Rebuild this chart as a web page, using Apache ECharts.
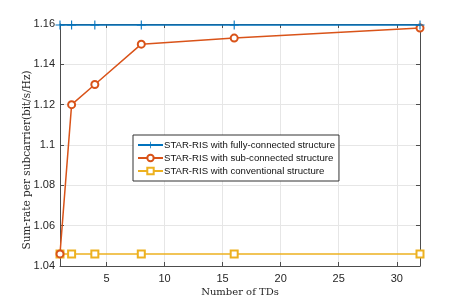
<!DOCTYPE html>
<html><head><meta charset="utf-8">
<script src="https://cdn.jsdelivr.net/npm/echarts@6/dist/echarts.min.js"></script>
<style>html,body{margin:0;padding:0;background:#fff}#c{width:464px;height:300px}</style>
</head><body><div id="c"></div>
<script>
const tds = [1, 2, 4, 8, 16, 32];
const fullyConnected = [1.1595, 1.1595, 1.1595, 1.1595, 1.1595, 1.1595];
const subConnected = [1.046, 1.12, 1.13, 1.15, 1.153, 1.158];
const conventional = [1.046, 1.046, 1.046, 1.046, 1.046, 1.046];
const xTicks = [5, 10, 15, 20, 25, 30];
const seriesNames = ['STAR-RIS with fully-connected structure','STAR-RIS with sub-connected structure','STAR-RIS with conventional structure'];
const xLabel = 'Number of TDs';
const yLabel = 'Sum-rate per subcarrier(bit/s/Hz)';

const pair = (xs, ys) => xs.map((x, i) => [x, ys[i]]);
const plus = 'path://M-0.12,-1 L0.12,-1 L0.12,-0.12 L1,-0.12 L1,0.12 L0.12,0.12 L0.12,1 L-0.12,1 L-0.12,0.12 L-1,0.12 L-1,-0.12 L-0.12,-0.12 Z';
const axisCol = '#4d4d4d';
const tickFont = {color: '#262626', fontSize: 11, fontFamily: 'Liberation Sans, Arial, sans-serif'};
const chart = echarts.init(document.getElementById('c'));
chart.setOption({
  animation: false,
  grid: {left: 60, right: 44, top: 24, bottom: 34, containLabel: false, outerBoundsMode: 'none'},
  legend: {
    orient: 'vertical', left: 133, top: 135,
    backgroundColor: '#fff', borderColor: '#333', borderWidth: 1, borderRadius: 0,
    padding: [5, 4, 5, 4], itemGap: 3, itemWidth: 25, itemHeight: 8,
    textStyle: {fontSize: 9.6, color: '#111', fontFamily: 'Liberation Sans, Arial, sans-serif', padding: [0,0,0,-4]},
    data: seriesNames
  },
  xAxis: [{
    type: 'value', min: 1, max: 32,
    name: xLabel, nameLocation: 'middle', nameGap: 21, nameMoveOverlap: false,
    nameTextStyle: {fontFamily: 'DejaVu Serif, serif', fontSize: 10, color: '#262626'},
    axisLine: {show: true, lineStyle: {color: axisCol}},
    axisTick: {show: true, inside: true, length: 4, customValues: xTicks, lineStyle: {color: axisCol}},
    axisLabel: Object.assign({margin: 7, customValues: xTicks}, tickFont),
    splitLine: {show: true, lineStyle: {color: '#e6e6e6'}}
  }, {
    type: 'value', min: 1, max: 32, position: 'top',
    axisLine: {show: true, lineStyle: {color: axisCol}},
    axisTick: {show: true, inside: true, length: 4, customValues: xTicks, lineStyle: {color: axisCol}},
    axisLabel: {show: false}, splitLine: {show: false}
  }],
  yAxis: [{
    type: 'value', min: 1.04, max: 1.16, interval: 0.02,
    name: yLabel, nameLocation: 'middle', nameGap: 27, nameMoveOverlap: false,
    nameTextStyle: {fontFamily: 'DejaVu Serif, serif', fontSize: 10.5, color: '#262626', padding: [0, 30, 0, 0]},
    axisLine: {show: true, lineStyle: {color: axisCol}},
    axisTick: {show: true, inside: true, length: 4, lineStyle: {color: axisCol}},
    axisLabel: Object.assign({margin: 5, formatter: v => String(parseFloat(v.toFixed(2)))}, tickFont),
    splitLine: {show: true, lineStyle: {color: '#e6e6e6'}}
  }, {
    type: 'value', min: 1.04, max: 1.16, interval: 0.02, position: 'right',
    axisLine: {show: true, lineStyle: {color: axisCol}},
    axisTick: {show: true, inside: true, length: 4, lineStyle: {color: axisCol}},
    axisLabel: {show: false}, splitLine: {show: false}
  }],
  series: [
    {name: seriesNames[0], type: 'line', data: pair(tds, fullyConnected), symbol: plus, symbolSize: 9,
     showAllSymbol: true, lineStyle: {color: '#0072BD', width: 1.5}, itemStyle: {color: '#0072BD'}, z: 3},
    {name: seriesNames[1], type: 'line', data: pair(tds, subConnected), symbol: 'emptyCircle', symbolSize: 7,
     lineStyle: {color: '#D95319', width: 1.5}, itemStyle: {color: '#D95319', borderWidth: 1.5}, z: 2},
    {name: seriesNames[2], type: 'line', data: pair(tds, conventional), symbol: 'emptyRect', symbolSize: 7,
     lineStyle: {color: '#EDB120', width: 1.5}, itemStyle: {color: '#EDB120', borderWidth: 1.5}, z: 1}
  ]
});
</script></body></html>
